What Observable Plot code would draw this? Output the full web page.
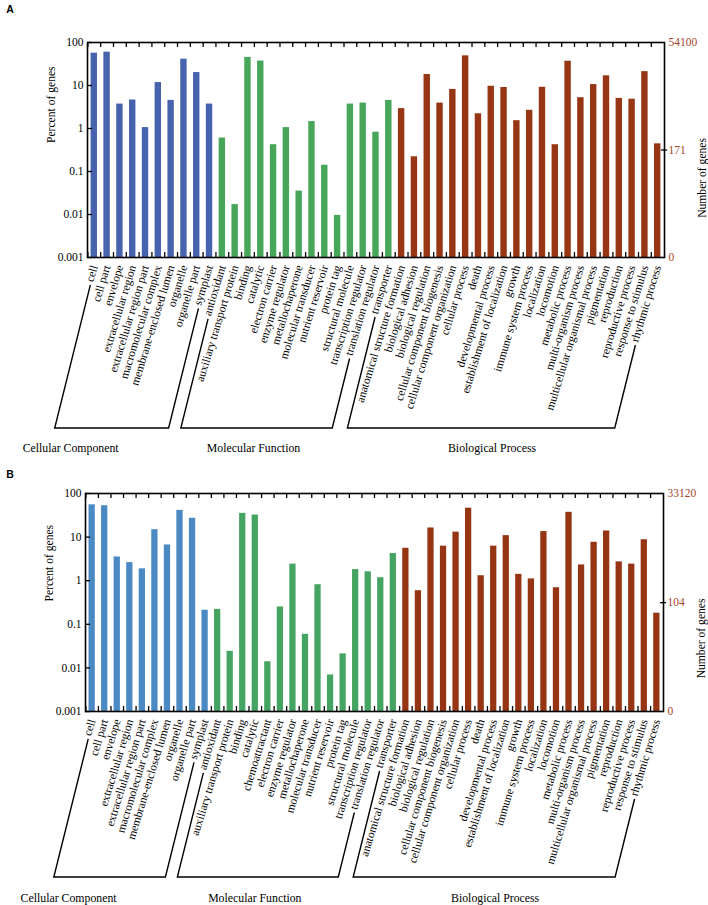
<!DOCTYPE html>
<html><head><meta charset="utf-8">
<script src="https://cdn.jsdelivr.net/npm/d3@7"></script>
<script src="https://cdn.jsdelivr.net/npm/@observablehq/plot@0.6"></script>
<style>
body{margin:0;background:#fff}
#chart{width:708px}
#chart svg{display:block;overflow:visible}
</style>
</head><body><div id="chart"></div>
<script>
// ---------- DATA ----------
const groupNames = ["Cellular Component", "Molecular Function", "Biological Process"];

const cellularComponent = ["cell","cell part","envelope","extracellular region","extracellular region part","macromolecular complex","membrane-enclosed lumen","organelle","organelle part","symplast"];
const molecularFunctionA = ["antioxidant","auxiliary transport protein","binding","catalytic","electron carrier","enzyme regulator","metallochaperone","molecular transducer","nutrient reservoir","protein tag","structural molecule","transcription regulator","translation regulator","transporter"];
const molecularFunctionB = ["antioxidant","auxiliary transport protein","binding","catalytic","chemoattractant","electron carrier","enzyme regulator","metallochaperone","molecular transducer","nutrient reservoir","protein tag","structural molecule","transcription regulator","translation regulator","transporter"];
const biologicalProcess = ["anatomical structure formation","biological adhesion","biological regulation","cellular component biogenesis","cellular component organization","cellular process","death","developmental process","establishment of localization","growth","immune system process","localization","locomotion","metabolic process","multi-organism process","multicellular organismal process","pigmentation","reproduction","reproductive process","response to stimulus","rhythmic process"];

// Panel A: percent of genes
const percentA_CC = [56.5, 59.6, 3.7, 4.6, 1.05, 11.7, 4.5, 41, 20, 3.7];
const percentA_MF = [0.6, 0.017, 45, 37, 0.42, 1.05, 0.035, 1.45, 0.14, 0.0095, 3.7, 3.9, 0.82, 4.5];
const percentA_BP = [2.9, 0.22, 18, 3.9, 8.1, 49, 2.2, 9.6, 9.0, 1.52, 2.65, 9.1, 0.42, 36.7, 5.2, 10.5, 16.8, 5.0, 4.8, 21, 0.44];

// Panel B: percent of genes
const percentB_CC = [55, 52.5, 3.5, 2.6, 1.87, 14.8, 6.6, 41, 27, 0.21];
const percentB_MF = [0.22, 0.024, 35, 32, 0.0138, 0.25, 2.4, 0.059, 0.81, 0.0069, 0.021, 1.8, 1.6, 1.17, 4.2];
const percentB_BP = [5.55, 0.59, 16.2, 6.2, 13, 46, 1.3, 6.2, 10.8, 1.4, 1.1, 13.4, 0.69, 37, 2.3, 7.6, 13.8, 2.7, 2.4, 8.7, 0.18];

// Axis ticks
const percentTicks = [100, 10, 1, 0.1, 0.01, 0.001];
const geneTicksA = [54100, 171, 0];
const geneTicksB = [33120, 104, 0];

// Brackets under the labels (first label, last label) as drawn in the figure
const bracketsA = [["cell","symplast"],["antioxidant","translation regulator"],["transporter","rhythmic process"]];
const bracketsB = [["cell","symplast"],["antioxidant","translation regulator"],["transporter","rhythmic process"]];

// ---------- LAYOUT / STYLE ----------
const serif = "'Liberation Serif', 'Times New Roman', serif";
const brown = "#a5452a";
const panels = [
  {letter: "A", height: 462, mt: 42, mb: 205, ml: 87, mr: 44,
   groups: [[cellularComponent, percentA_CC],[molecularFunctionA, percentA_MF],[biologicalProcess, percentA_BP]],
   colors: ["#4763ad", "#47a659", "#973614"], geneTicks: geneTicksA, brackets: bracketsA,
   bracketY: 428, groupLabelY: 452, letterY: 13, letterX: 10, pctDy: -7, numDy: -12},
  {letter: "B", height: 443, mt: 31, mb: 194, ml: 85, mr: 45,
   groups: [[cellularComponent, percentB_CC],[molecularFunctionB, percentB_MF],[biologicalProcess, percentB_BP]],
   colors: ["#4a89c2", "#46a462", "#963514"], geneTicks: geneTicksB, brackets: bracketsB,
   bracketY: 415, groupLabelY: 440, letterY: 16, letterX: 10, pctDy: -1, numDy: -4}
];
const groupLabelDx = [-41, -3, 11];
const ROT = -73, SLANT = 76;

function makePanel(p) {
  const data = [];
  p.groups.forEach(([cats, vals], gi) => cats.forEach((c, i) => data.push({cat: c, value: vals[i], group: groupNames[gi]})));
  const cats = data.map(d => d.cat);
  const W = 708;
  const plotW = W - p.ml - p.mr, plotH = p.height - p.mt - p.mb;
  const PI = 0.5, PO = 0.28;
  const step = plotW / (cats.length - PI + 2 * PO);
  const total = p.geneTicks[0];
  const geneTickData = p.geneTicks.map(n => ({label: String(n), y: Math.max(0.001, n / total * 100)}));
  const midGene = geneTickData.filter(d => d.y < 100 && d.y > 0.001);

  const chart = Plot.plot({
    width: W, height: p.height,
    marginTop: p.mt, marginBottom: p.mb, marginLeft: p.ml, marginRight: p.mr,
    style: {fontFamily: serif, fontSize: "11.6px", background: "white", color: "black"},
    x: {type: "band", domain: cats, paddingInner: PI, paddingOuter: PO, round: false, axis: null},
    y: {type: "log", domain: [0.001, 100], axis: null},
    color: {domain: groupNames, range: p.colors},
    marks: [
      Plot.barY(data, {x: "cat", y1: 0.001, y2: "value", fill: "group"}),
      // inward ticks on top and bottom edges, between categories
      Plot.ruleX(cats, {x: d => d, dx: -step / 2, insetBottom: plotH - 5, stroke: "black", strokeWidth: 1.3}),
      Plot.ruleX(cats, {x: d => d, dx: -step / 2, insetTop: plotH - 5, stroke: "black", strokeWidth: 1.3}),
      // left axis
      Plot.ruleY(percentTicks, {y: d => d, insetRight: plotW - 5, stroke: "black", strokeWidth: 1.3}),
      Plot.text(percentTicks, {y: d => d, text: d => String(d), frameAnchor: "left", dx: -4, textAnchor: "end", fontSize: 11.5}),
      Plot.text(["Percent of genes"], {text: d => d, frameAnchor: "left", rotate: -90, dx: -36, dy: p.pctDy, fontSize: 11.6}),
      // right axis
      Plot.ruleY(midGene, {y: "y", insetLeft: plotW - 3, insetRight: -3, stroke: "black", strokeWidth: 1.3}),
      Plot.text(geneTickData, {y: "y", text: "label", frameAnchor: "right", dx: 4, textAnchor: "start", fill: brown, fontSize: 11.5}),
      Plot.text(["Number of genes"], {text: d => d, frameAnchor: "right", rotate: -90, dx: 38, dy: p.numDy, fontSize: 11.6}),
      Plot.frame({stroke: "black", strokeWidth: 1.6}),
      // category labels
      Plot.text(data, {x: "cat", y: 0.001, text: "cat", rotate: ROT, textAnchor: "end", lineAnchor: "middle", dy: 8, fontSize: 11.6, fill: "black"})
    ]
  });
  document.getElementById("chart").append(chart);

  // ----- annotations: brackets and group names, derived from rendered labels -----
  const svg = d3.select(chart);
  const labelEl = new Map();
  svg.selectAll("text").each(function () { if (cats.includes(this.textContent)) labelEl.set(this.textContent, this); });
  const startOf = name => {
    const el = labelEl.get(name);
    const bb = el.getBBox();
    const pt = chart.createSVGPoint();
    pt.x = bb.x; pt.y = bb.y + bb.height * 0.62;
    return pt.matrixTransform(el.getCTM());
  };
  const ux = -Math.cos(SLANT * Math.PI / 180), uy = Math.sin(SLANT * Math.PI / 180);
  const slantPoints = name => {
    const s = startOf(name);
    const a = {x: s.x + 3 * ux, y: s.y + 3 * uy};
    const t = (p.bracketY - a.y) / uy;
    return [a, {x: a.x + t * ux, y: p.bracketY}];
  };
  p.brackets.forEach(([first, last], gi) => {
    const [a1, b1] = slantPoints(first);
    const [a2, b2] = slantPoints(last);
    svg.append("path")
      .attr("d", `M${a1.x},${a1.y}L${b1.x},${b1.y}L${b2.x},${b2.y}L${a2.x},${a2.y}`)
      .attr("fill", "none").attr("stroke", "black").attr("stroke-width", 1.4);
    svg.append("text")
      .attr("x", (b1.x + b2.x) / 2 + groupLabelDx[gi]).attr("y", p.groupLabelY)
      .attr("text-anchor", "middle").attr("font-family", serif).attr("font-size", 11.8)
      .text(groupNames[gi]);
  });
  svg.append("text").attr("x", p.letterX).attr("y", p.letterY)
    .attr("font-family", "'Liberation Sans', Arial, sans-serif").attr("font-weight", "bold").attr("font-size", 10.5)
    .text(p.letter);
}
panels.forEach(makePanel);
</script>
</body></html>
